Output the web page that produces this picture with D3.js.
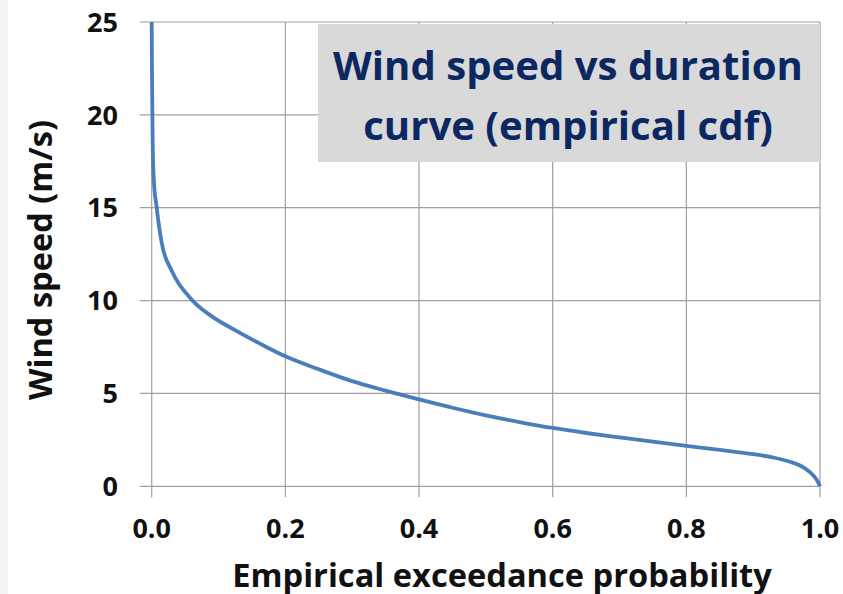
<!DOCTYPE html>
<html><head><meta charset="utf-8">
<script src="https://cdn.jsdelivr.net/npm/d3@7"></script>
<style>
html,body{margin:0;padding:0;background:#fff;}
svg{display:block;}
text{font-family:"Open Sans",sans-serif;font-weight:bold;}
</style></head>
<body>
<svg id="c" width="843" height="594"></svg>
<script>
const prob  = [0, 0.0005, 0.0015, 0.003, 0.0075, 0.015, 0.03, 0.06, 0.09, 0.12, 0.16, 0.2, 0.25, 0.3, 0.35, 0.4, 0.45, 0.5, 0.55, 0.6, 0.65, 0.7, 0.75, 0.8, 0.85, 0.9, 0.93, 0.955, 0.97, 0.98, 0.99, 0.996, 1.0];
const speed = [25, 22, 18.5, 16.6, 15, 13.1, 11.6, 10.05, 9.15, 8.5, 7.72, 7.0, 6.3, 5.66, 5.15, 4.68, 4.23, 3.82, 3.46, 3.14, 2.87, 2.63, 2.4, 2.18, 1.96, 1.73, 1.55, 1.32, 1.12, 0.9, 0.58, 0.3, 0];
const xTicks = [0, 0.2, 0.4, 0.6, 0.8, 1.0];
const yTicks = [0, 5, 10, 15, 20, 25];
const titleLines = ["Wind speed vs duration", "curve (empirical cdf)"];
const xTitle = "Empirical exceedance probability";
const yTitle = "Wind speed (m/s)";

const svg = d3.select("#c");
svg.append("rect").attr("x",0).attr("y",0).attr("width",8).attr("height",594).attr("fill","#f2f2f2");

const L = 151.7, R = 820, T = 22, B = 486.3;
const x = d3.scaleLinear().domain([0,1]).range([L,R]);
const y = d3.scaleLinear().domain([0,25]).range([B,T]);
const grid = "#a0a0a0";

svg.append("g").selectAll("line").data(yTicks).join("line")
  .attr("x1", L-12).attr("x2", R)
  .attr("y1", d=>y(d)).attr("y2", d=>y(d))
  .attr("stroke", grid).attr("stroke-width",1.2);
svg.append("g").selectAll("line").data(xTicks).join("line")
  .attr("y1", T).attr("y2", B+11)
  .attr("x1", d=>x(d)).attr("x2", d=>x(d))
  .attr("stroke", grid).attr("stroke-width",1.2);

svg.append("g").selectAll("text").data(yTicks).join("text")
  .attr("x", 118).attr("y", d=>y(d)).attr("dy","0.36em")
  .attr("text-anchor","end").attr("font-size",27).attr("fill","#111")
  .text(d=>d);
svg.append("g").selectAll("text").data(xTicks).join("text")
  .attr("x", d=>x(d)).attr("y", 538)
  .attr("text-anchor","middle").attr("font-size",27).attr("fill","#111")
  .text(d=>d.toFixed(1));

const pts = prob.map((p,i)=>[p, speed[i]]);
svg.append("path").datum(pts)
  .attr("fill","none").attr("stroke","#4a7ebb").attr("stroke-width",3.8)
  .attr("stroke-linejoin","round")
  .attr("d", d3.line().x(d=>x(d[0])).y(d=>y(d[1])).curve(d3.curveMonotoneX));

svg.append("rect").attr("x",318).attr("y",24).attr("width",502).attr("height",138).attr("fill","#d9d9d9");
const tt = svg.append("g").selectAll("text").data(titleLines).join("text")
  .attr("x", 568).attr("y",(d,i)=> i===0 ? 80 : 140)
  .attr("text-anchor","middle").attr("font-size",40).attr("fill","#0b2862")
  .text(d=>d);
const w0 = tt.nodes()[0].getComputedTextLength();
tt.attr("font-size", 40*470/w0);

const xt = svg.append("text").attr("x", 502).attr("y", 587)
  .attr("text-anchor","middle").attr("font-size",28).attr("fill","#111").text(xTitle);
const xw = xt.node().getComputedTextLength();
xt.attr("font-size", 28*540/xw);

const yt = svg.append("text").attr("transform","translate(52,260) rotate(-90)")
  .attr("text-anchor","middle").attr("font-size",28).attr("fill","#111").text(yTitle);
const yw = yt.node().getComputedTextLength();
yt.attr("font-size", 28*280/yw);
</script>
</body></html>
